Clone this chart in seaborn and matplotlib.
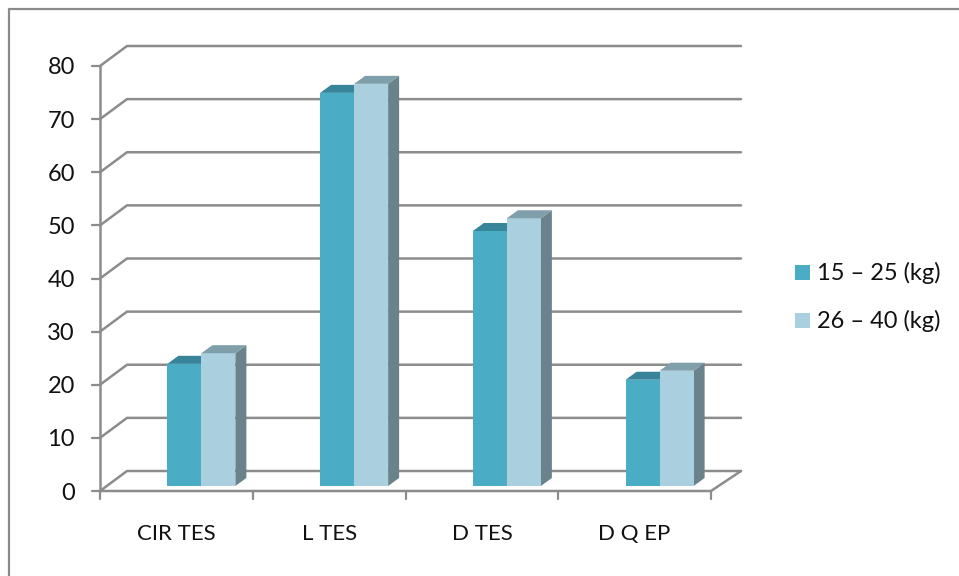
import matplotlib
matplotlib.use("Agg")
import matplotlib.pyplot as plt
from matplotlib.patches import Polygon, Rectangle
import pandas as pd
import seaborn as sns

tests = ["CIR TES", "L TES", "D TES", "D Q EP"]
group_light = [23, 74, 48, 20]
group_heavy = [25, 75.7, 50.4, 21.7]
group_names = ["15 – 25 (kg)", "26 – 40 (kg)"]
y_ticks = [0, 10, 20, 30, 40, 50, 60, 70, 80]

FRONT_COLORS = ["#4BACC6", "#AACFDF"]
TOP_COLORS = ["#38849A", "#7F9FAB"]
SIDE_COLOR = "#6A828C"
GRID = "#8C8C8C"

W, H = 959, 576
sns.set_theme(style="white")
plt.rcParams["font.family"] = ["Lato", "DejaVu Sans"]

fig = plt.figure(figsize=(W / 100, H / 100), dpi=100)


def px_axes(left, right, top, bottom):
    return fig.add_axes([left / W, 1 - bottom / H, (right - left) / W, (bottom - top) / H])


# Front plane holds the axis lines and labels, the bar plane sits a little deeper.
front = px_axes(100, 711, 66, 491)
bars = px_axes(125, 736, 61, 486)
for a in (front, bars):
    a.patch.set_alpha(0)
    a.set_ylim(0, 80)
    a.set_xlim(-0.5, 3.5)
    for s in a.spines.values():
        s.set_visible(False)

x_per_px = 4 / 611
y_per_px = 80 / 425

# Chart border
fig.add_artist(plt.Line2D([9 / W, 9 / W, 1], [0, 1 - 9 / H, 1 - 9 / H], color="#8A8A8A", lw=1.6))

# Back wall gridlines, angled side wall and floor
wall_dx, wall_dy = 27 * x_per_px, 20 * y_per_px
x0, x1 = -0.5, 3.5
end = x1 + 30 * x_per_px
for v in y_ticks:
    front.plot([x0, x0 + wall_dx, end], [v, v + wall_dy, v + wall_dy],
               color=GRID, lw=1.8, clip_on=False, zorder=1, solid_joinstyle="miter")
    front.plot([x0 - 8 * x_per_px, x0], [v, v], color=GRID, lw=1.6, clip_on=False, zorder=1)
front.plot([x0, x0], [0, 80], color=GRID, lw=1.8, clip_on=False, zorder=1)
front.plot([x0, x1, end], [0, 0, wall_dy], color=GRID, lw=1.8, clip_on=False, zorder=1)
for i in range(5):
    front.plot([x0 + i, x0 + i], [0, -8 * y_per_px], color=GRID, lw=1.6, clip_on=False, zorder=1)

front.set_xticks(range(4), tests, fontsize=16, color="#111111")
front.set_yticks(y_ticks, [str(v) for v in y_ticks], fontsize=17, color="#111111")
front.tick_params(axis="x", length=0, pad=24)
front.tick_params(axis="y", length=0, pad=18)
front.set_xlabel("")
front.set_ylabel("")

table = pd.DataFrame({
    "test": tests * 2,
    "value": group_light + group_heavy,
    "group": [group_names[0]] * 4 + [group_names[1]] * 4,
})
sns.barplot(data=table, x="test", y="value", hue="group", hue_order=group_names,
            palette=FRONT_COLORS, width=68 / 152.75, gap=0, saturation=1,
            linewidth=0, legend=False, ax=bars, zorder=3)
bars.set_xlim(-0.5, 3.5)
bars.set_ylim(0, 80)
bars.axis("off")

# Depth faces for each bar; the light bar's top passes behind its taller neighbour
depth_x, depth_y = 11 * x_per_px, 8 * y_per_px
for c, container in enumerate(bars.containers):
    for p in container:
        l, b, w, h = p.get_x(), p.get_y(), p.get_width(), p.get_height()
        r, t = l + w, b + h
        bars.add_patch(Polygon([(l, t), (r, t), (r + depth_x, t + depth_y), (l + depth_x, t + depth_y)],
                               closed=True, fc=TOP_COLORS[c], ec="none", zorder=2.8 + c, clip_on=False))
        if c == 1:
            bars.add_patch(Polygon([(r, b), (r + depth_x, b + depth_y), (r + depth_x, t + depth_y), (r, t)],
                                   closed=True, fc=SIDE_COLOR, ec="none", zorder=2.5, clip_on=False))

# Legend
for i, (name, y_px) in enumerate(zip(group_names, [272.5, 320.5])):
    fig.add_artist(Rectangle((795 / W, 1 - (y_px + 7.5) / H), 15 / W, 15 / H,
                             fc=FRONT_COLORS[i], ec="none", transform=fig.transFigure))
    fig.text(817 / W, 1 - (y_px + 0.5) / H, name, fontsize=17, color="#111111", va="center", ha="left")

fig.savefig("out.png", dpi=100)
